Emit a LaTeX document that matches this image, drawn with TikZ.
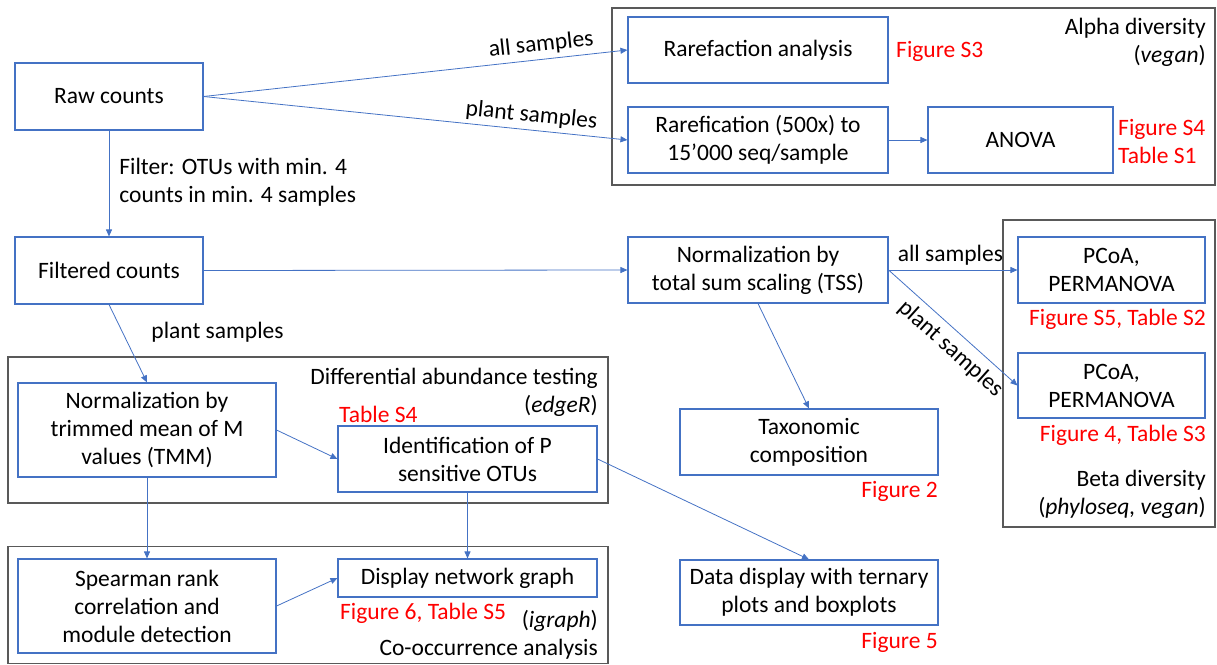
\documentclass[tikz,border=0pt]{standalone}
\usepackage{fontspec}
\setmainfont{Carlito}
\usetikzlibrary{arrows.meta}
\definecolor{boxblue}{HTML}{4472C4}
\definecolor{framegray}{HTML}{595959}
\definecolor{refred}{HTML}{FF0000}
\begin{document}
\begin{tikzpicture}[x=1pt,y=-1pt,
  every node/.style={font=\fontsize{23.5}{28}\selectfont, inner sep=0pt},
  stepbox/.style={draw=boxblue, line width=1.1pt, align=center, fill=white},
  frame/.style={draw=framegray, line width=1.4pt},
  conn/.style={draw=boxblue, line width=0.8pt, -{Triangle[width=6pt,length=7pt]}},
  redlab/.style={text=refred},
  lab/.style={text=black}]
\useasboundingbox (0,0) rectangle (1217,664);
% frames
\node[frame, minimum width=603pt, minimum height=177pt] (alphaframe) at (913.5,96.5) {};
\node[frame, minimum width=212pt, minimum height=307pt] (betaframe) at (1109,373.5) {};
\node[frame, minimum width=600pt, minimum height=146pt] (diffframe) at (308,430) {};
\node[frame, minimum width=600pt, minimum height=117pt] (coocframe) at (308,605) {};
% boxes
\node[stepbox, minimum width=188pt, minimum height=67pt] (raw) at (109,96.5) {Raw counts};
\node[stepbox, minimum width=188pt, minimum height=67pt] (filt) at (109,270.5) {Filtered counts};
\node[stepbox, minimum width=260pt, minimum height=66pt] (rare) at (758,50) {Rarefaction analysis};
\node[stepbox, minimum width=260pt, minimum height=66pt] (rarefic) at (758,140) {Rarefication (500x) to\\15’000 seq/sample};
\node[stepbox, minimum width=185pt, minimum height=66pt] (anova) at (1020.5,140) {ANOVA};
\node[stepbox, minimum width=260pt, minimum height=66pt] (tss) at (758,270) {Normalization by\\total sum scaling (TSS)};
\node[stepbox, minimum width=187pt, minimum height=66pt] (pcoa1) at (1111.5,270) {PCoA,\\PERMANOVA};
\node[stepbox, minimum width=187pt, minimum height=65pt] (pcoa2) at (1111.5,385.5) {PCoA,\\PERMANOVA};
\node[stepbox, minimum width=258pt, minimum height=66pt] (tax) at (809,442) {Taxonomic\\composition};
\node[stepbox, minimum width=258pt, minimum height=65pt] (data) at (809,592.5) {Data display with ternary\\plots and boxplots};
\node[stepbox, minimum width=258pt, minimum height=94pt] (tmm) at (147,430) {Normalization by\\trimmed mean of M\\values (TMM)};
\node[stepbox, minimum width=259pt, minimum height=66pt] (ident) at (467.5,459) {Identification of P\\sensitive OTUs};
\node[stepbox, minimum width=258pt, minimum height=94pt] (spear) at (147,606) {Spearman rank\\correlation and\\module detection};
\node[stepbox, minimum width=259pt, minimum height=38pt] (netw) at (467.5,578) {Display network graph};
% frame titles
\node[lab, anchor=east, align=right] (alphatitle) at (1206,42) {Alpha diversity\\(\textit{vegan})};
\node[lab, anchor=east, align=right] (betatitle) at (1206,494) {Beta diversity\\(\textit{phyloseq, vegan})};
\node[lab, anchor=east, align=right] (difftitle) at (598,392) {Differential abundance testing\\(\textit{edgeR})};
\node[lab, anchor=east, align=right] (cooctitle) at (598,634.5) {(\textit{igraph})\\Co-occurrence analysis};
% red references
\node[redlab, anchor=west] (fs3) at (896,51) {Figure S3};
\node[redlab, anchor=west, align=left] (fs4) at (1118,141) {Figure S4\\Table S1};
\node[redlab, anchor=east] (fs5) at (1206,319) {Figure S5, Table S2};
\node[redlab, anchor=east] (f4) at (1206,435) {Figure 4, Table S3};
\node[redlab, anchor=east] (f2) at (938,491) {Figure 2};
\node[redlab, anchor=east] (f5) at (938,642) {Figure 5};
\node[redlab, anchor=west] (ts4) at (339,414) {Table S4};
\node[redlab, anchor=west] (f6) at (340,613) {Figure 6, Table S5};
% connectors
\draw[conn] (raw.east) -- node[pos=0.8, sloped, above, inner sep=4pt] {all samples} (rare.west);
\draw[conn] (raw.east) -- node[pos=0.77, sloped, above, inner sep=4pt] {plant samples} (rarefic.west);
\draw[conn] (raw.south) -- node[midway, right, align=left, inner sep=10pt, yshift=1pt] {Filter: OTUs with min. 4\\counts in min. 4 samples} (filt.north);
\draw[conn] (filt.east) -- (tss.west);
\draw[conn] (filt.south) -- node[pos=0.37, anchor=west, xshift=28pt, yshift=1pt] {plant samples} (tmm.north);
\draw[conn] (rarefic.east) -- (anova.west);
\draw[conn] (tss.east) -- node[pos=0.48, above, inner sep=4pt] {all samples} (pcoa1.west);
\draw[conn] (tss.east) -- node[pos=0.57, sloped, below, inner sep=7pt] {plant samples} (pcoa2.west);
\draw[conn] (tss.south) -- (tax.north);
\draw[conn] (tmm.east) -- (ident.west);
\draw[conn] (ident.east) -- (data.north);
\draw[conn] (tmm.south) -- (spear.north);
\draw[conn] (ident.south) -- (netw.north);
\draw[conn] (spear.east) -- (netw.west);
\end{tikzpicture}
\end{document}
